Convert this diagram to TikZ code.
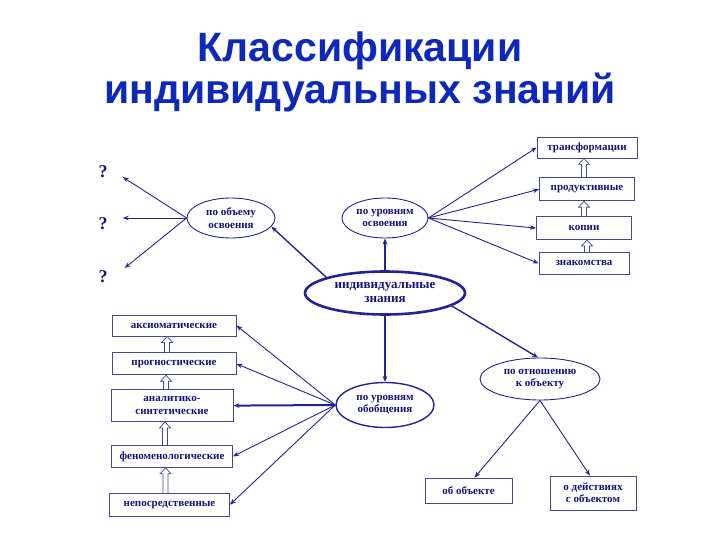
\documentclass[tikz,border=0pt]{standalone}
\usepackage{fontspec}
\setmainfont{Liberation Serif}
\newfontfamily\titlefont{Liberation Sans}
\usepackage{tikz}
\usetikzlibrary{shapes.geometric, arrows.meta, positioning, calc}
\definecolor{kntitle}{RGB}{14,40,185}
\definecolor{kntext}{RGB}{20,20,120}
\definecolor{knline}{RGB}{35,35,150}
\definecolor{knbox}{RGB}{70,70,150}

% hollow block arrow pointing up from one box to the next
\newcommand\hollowup[3]{%
  \coordinate (hb) at ($(#1.north)+(#3,0)$);
  \coordinate (ht) at (hb |- #2.south);
  \draw[hollow] ($(hb)+(-2.5,0)$) -- ($(ht)+(-2.5,6)$) -- ($(ht)+(-5.5,6)$) -- (ht)
    -- ($(ht)+(5.5,6)$) -- ($(ht)+(2.5,6)$) -- ($(hb)+(2.5,0)$);}

\begin{document}
\begin{tikzpicture}[x=1pt, y=-1pt,
  kbox/.style={rectangle, draw=knbox, line width=0.8pt, fill=white, align=center, inner sep=2pt,
    font=\fontsize{11}{12.5}\selectfont\bfseries, text=kntext},
  kell/.style={ellipse, draw=knline, line width=0.9pt, align=center, inner sep=0pt,
    font=\fontsize{11}{12.5}\selectfont\bfseries, text=kntext},
  quest/.style={font=\fontsize{18}{18}\selectfont\bfseries, text=kntext, inner sep=1pt},
  arr/.style={-{Stealth[length=6pt, width=4.5pt]}, line width=0.9pt, draw=knline},
  thickarr/.style={-{Stealth[length=6pt, width=5pt]}, line width=2.2pt, draw=knline},
  hollow/.style={draw=knbox, line width=0.7pt}
]
\useasboundingbox (0,0) rectangle (720,540);

% title
\node[font=\titlefont\fontsize{41}{42}\selectfont\bfseries, text=kntitle, align=center] (title) at (360,72)
  {Классификации\\индивидуальных знаний};

% centre and the four groupings
\node[kell, line width=2.6pt, minimum width=160pt, minimum height=43pt, font=\fontsize{13}{14}\selectfont\bfseries] (ind) at (385,293) {индивидуальные\\знания};
\node[kell, minimum width=88pt, minimum height=40pt] (obem) at (231,218) {по объему\\освоения};
\node[kell, minimum width=86pt, minimum height=40pt] (osv) at (385,218) {по уровням\\освоения};
\node[kell, line width=1.4pt, minimum width=98pt, minimum height=45pt] (obob) at (385,405) {по уровням\\обобщения};
\node[kell, minimum width=120pt, minimum height=42pt] (otn) at (540,379) {по отношению\\к объекту};

% question marks
\node[quest] (q1) at (103,172) {?};
\node[quest] (q2) at (103,224) {?};
\node[quest] (q3) at (103,277) {?};

% right stack
\node[kbox, minimum width=100pt, minimum height=21pt] (trans) at (587,147.5) {трансформации};
\node[kbox, minimum width=95pt, minimum height=23pt, below=19pt of trans] (prod) {продуктивные};
\node[kbox, minimum width=95pt, minimum height=23pt, below=15pt of prod, xshift=-3pt] (kop) {копии};
\node[kbox, minimum width=90pt, minimum height=22pt, below=12pt of kop] (zn) {знакомства};

% left stack
\node[kbox, minimum width=124pt, minimum height=21pt] (aks) at (174,325.5) {аксиоматические};
\node[kbox, minimum width=124pt, minimum height=22pt, below=16pt of aks] (progn) {прогностические};
\node[kbox, minimum width=122pt, minimum height=32pt, below=14pt of progn, xshift=-2pt] (anal) {аналитико-\\синтетические};
\node[kbox, minimum width=121pt, minimum height=22pt, below=23pt of anal] (fen) {феноменологические};
\node[kbox, minimum width=120pt, minimum height=23pt, below=25pt of fen, xshift=-2.5pt] (nep) {непосредственные};

% bottom pair
\node[kbox, minimum width=87pt, minimum height=25pt] (obe) at (468.5,490.5) {об объекте};
\node[kbox, minimum width=86pt, minimum height=34pt] (deys) at (593,493) {о действиях\\с объектом};

% connectors
\draw[thickarr] (ind.north) -- (osv.south);
\draw[thickarr] (ind.south) -- (obob.north);
\draw[arr, line width=1.4pt] (ind.165) -- (obem.-12);
\draw[arr, line width=1.4pt] (ind.-11) -- (otn.95);

\draw[arr] (obem.west) -- ([xshift=14pt, yshift=-5pt]q1.east);
\draw[arr] (obem.west) -- ([xshift=14pt, yshift=6pt]q2.east);
\draw[arr] (obem.west) -- ([xshift=16pt, yshift=9pt]q3.east);

\draw[arr] (osv.east) -- (trans.west);
\draw[arr] (osv.east) -- (prod.west);
\draw[arr] (osv.east) -- (kop.west);
\draw[arr] (osv.east) -- (zn.west);

\draw[arr] (obob.west) -- (aks.east);
\draw[arr] (obob.west) -- (progn.east);
\draw[arr, line width=2pt] (obob.west) -- (anal.east);
\draw[arr] (obob.west) -- (fen.east);
\draw[arr] (obob.west) -- (nep.east);

\draw[arr] (otn.south) -- ([xshift=6pt]obe.north);
\draw[arr] (otn.south) -- ([xshift=-3pt]deys.north);

\hollowup{zn}{kop}{3}
\hollowup{kop}{prod}{0}
\hollowup{prod}{trans}{-3}

\hollowup{nep}{fen}{-4}
\hollowup{fen}{anal}{-7}
\hollowup{anal}{progn}{-6}
\hollowup{progn}{aks}{-7}
\end{tikzpicture}
\end{document}
